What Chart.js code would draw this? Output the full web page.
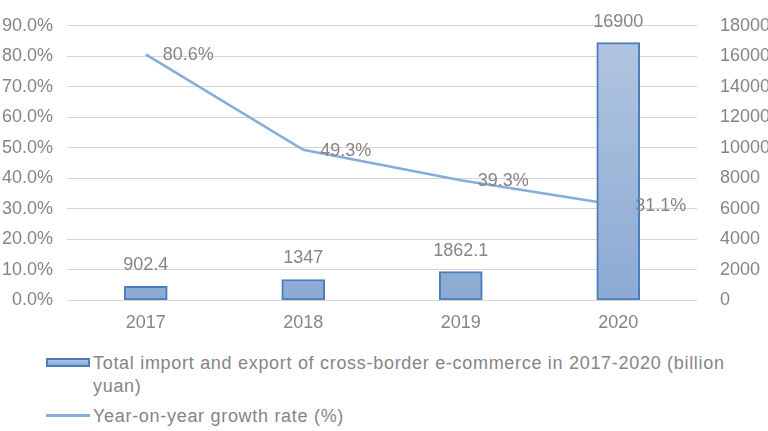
<!DOCTYPE html>
<html>
<head>
<meta charset="utf-8">
<script src="https://cdn.jsdelivr.net/npm/chart.js@4.4.1/dist/chart.umd.min.js"></script>
<style>
  body { margin: 0; background: #fff; width: 768px; height: 431px; position: relative; overflow: hidden;
         font-family: 'Liberation Sans', Arial, sans-serif; }
  #wrap { position: absolute; left: 0; top: 0; width: 768px; height: 345px; }
  .leg { position: absolute; left: 93px; color: #858585; font-size: 18px; letter-spacing: 0.7px;
         line-height: 23px; white-space: nowrap; }
  .box { position: absolute; left: 46px; top: 358px; width: 40px; height: 5px; border: 2px solid #4a7dbb;
         background: linear-gradient(#b3c6e1, #8caad3); }
  .ln { position: absolute; left: 46px; top: 414px; width: 44px; height: 2.5px; background: #86acdc; }
</style>
</head>
<body>
<div id="wrap"><canvas id="chart"></canvas></div>
<div class="box"></div>
<div class="leg" style="top:352px">Total import and export of cross-border e-commerce in 2017-2020 (billion<br>yuan)</div>
<div class="ln"></div>
<div class="leg" style="top:405px">Year-on-year growth rate (%)</div>

<script>
// chart data
const years = ['2017', '2018', '2019', '2020'];
const tradeTotal = [902.4, 1347, 1862.1, 16900];      // billion yuan, right axis
const tradeLabels = ['902.4', '1347', '1862.1', '16900'];
const growthRate = [80.6, 49.3, 39.3, 31.1];          // %, left axis

const FONT = "'Liberation Sans', Arial, sans-serif";
const GREY = '#858585';

// draws value labels above bars and beside line points
const valueLabels = {
  id: 'valueLabels',
  afterDatasetsDraw(chart) {
    const ctx = chart.ctx;
    ctx.save();
    ctx.font = '18px ' + FONT;
    ctx.fillStyle = GREY;
    ctx.textBaseline = 'middle';
    chart.getDatasetMeta(0).data.forEach((bar, i) => {
      ctx.textAlign = 'center';
      ctx.fillText(tradeLabels[i], bar.x, bar.y - 21);
    });
    chart.getDatasetMeta(1).data.forEach((pt, i) => {
      ctx.textAlign = 'left';
      ctx.fillText(growthRate[i].toFixed(1) + '%', pt.x + 17, pt.y + 1);
    });
    ctx.restore();
  }
};

const barFill = (c) => {
  const area = c.chart.chartArea;
  if (!area) return '#9bb3d8';
  const g = c.chart.ctx.createLinearGradient(0, area.top, 0, area.bottom);
  g.addColorStop(0, '#b3c6e1');
  g.addColorStop(1, '#8caad3');
  return g;
};

new Chart(document.getElementById('chart'), {
  type: 'bar',
  data: {
    labels: years,
    datasets: [{
      type: 'bar',
      label: 'Total import and export of cross-border e-commerce in 2017-2020 (billion yuan)',
      data: tradeTotal,
      yAxisID: 'y1',
      backgroundColor: barFill,
      borderColor: '#4a7dbb',
      borderWidth: 2,
      borderSkipped: false,
      barThickness: 43,
      order: 1
    }, {
      type: 'line',
      label: 'Year-on-year growth rate (%)',
      data: growthRate,
      yAxisID: 'y',
      borderColor: '#86acdc',
      borderWidth: 2.5,
      pointRadius: 0,
      tension: 0,
      fill: false,
      order: 2
    }]
  },
  options: {
    responsive: true,
    maintainAspectRatio: false,
    animation: false,
    layout: { padding: { top: 20, left: 0, right: 0, bottom: 0 } },
    plugins: {
      legend: { display: false },
      tooltip: { enabled: false }
    },
    scales: {
      x: {
        grid: { display: false },
        border: { display: false },
        ticks: { color: GREY, font: { family: FONT, size: 18 }, padding: 4 },
        afterFit: (s) => { s.height = 45; }
      },
      y: {
        position: 'left',
        min: 0, max: 90,
        grid: { color: '#d6d6d6', drawTicks: false },
        border: { display: false },
        ticks: {
          stepSize: 10, padding: 14, color: GREY, font: { family: FONT, size: 18 },
          callback: (v) => v.toFixed(1) + '%'
        },
        afterFit: (s) => { s.width = 67; }
      },
      y1: {
        position: 'right',
        min: 0, max: 18000,
        grid: { display: false },
        border: { display: false },
        ticks: {
          stepSize: 2000, padding: 15, color: GREY, font: { family: FONT, size: 18 },
          callback: (v) => String(v)
        },
        afterFit: (s) => { s.width = 71; }
      }
    }
  },
  plugins: [valueLabels]
});
</script>
</body>
</html>
